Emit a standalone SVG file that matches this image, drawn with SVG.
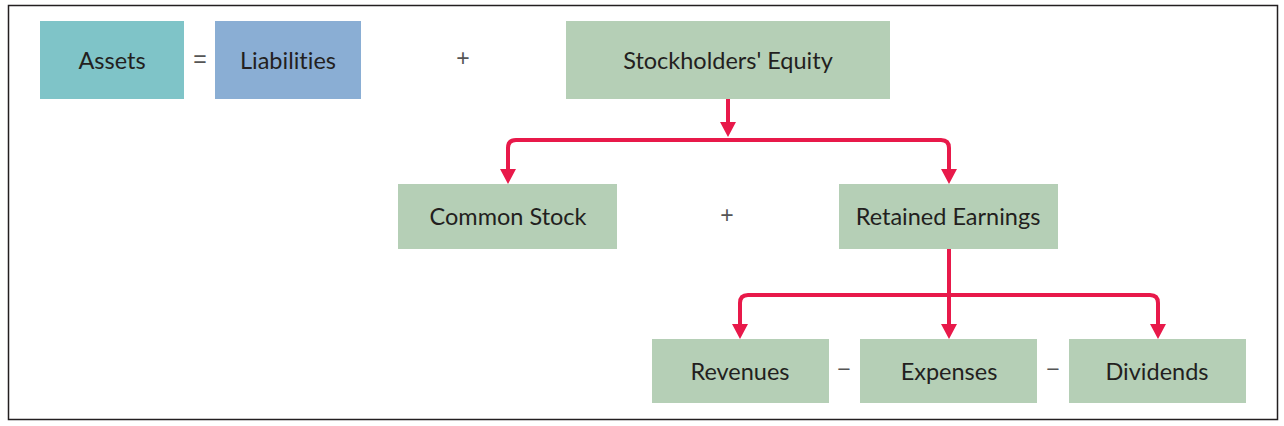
<svg xmlns="http://www.w3.org/2000/svg" width="1284" height="426" viewBox="0 0 1284 426">
<style>
.box{fill:#b5cfb6}
.t{font-family:Lato,"Liberation Sans",sans-serif;font-size:23.5px;fill:#231f20;text-anchor:middle;dominant-baseline:central;font-variant-ligatures:none}
.op{font-family:"Liberation Sans",sans-serif;font-size:23px;fill:#555;text-anchor:middle;dominant-baseline:central}
.c{fill:none;stroke:#e8194a;stroke-width:4;stroke-linejoin:round}
</style>
<defs>
<marker id="ah" viewBox="0 0 15 16" refX="5" refY="8" markerWidth="15" markerHeight="16" markerUnits="userSpaceOnUse" orient="auto">
<path d="M0,0 L15,8 L0,16 Z" fill="#e8194a"/>
</marker>
</defs>
<rect x="0" y="0" width="1284" height="426" fill="#fff"/>
<rect x="8.5" y="5.5" width="1269" height="414" fill="none" stroke="#231f20" stroke-width="1.5"/>
<g id="assets"><rect x="40" y="21" width="144" height="78" fill="#7fc4c8"/><text class="t" x="112" y="60">Assets</text></g>
<text class="op" x="200" y="59">=</text>
<g id="liabilities"><rect x="215" y="21" width="146" height="78" fill="#8aaed4"/><text class="t" x="288" y="60">Liabilities</text></g>
<text class="op" x="463" y="58">+</text>
<g id="equity"><rect class="box" x="566" y="21" width="324" height="78"/><text class="t" x="728" y="60">Stockholders' Equity</text></g>
<g id="common"><rect class="box" x="398" y="184" width="219" height="65"/><text class="t" x="508" y="216">Common Stock</text></g>
<text class="op" x="727" y="215">+</text>
<g id="retained"><rect class="box" x="839" y="184" width="219" height="65"/><text class="t" x="948" y="216">Retained Earnings</text></g>
<g id="revenues"><rect class="box" x="652" y="339" width="177" height="64"/><text class="t" x="740" y="371">Revenues</text></g>
<text class="op" x="844" y="369">−</text>
<g id="expenses"><rect class="box" x="860" y="339" width="177" height="64"/><text class="t" x="949" y="371">Expenses</text></g>
<text class="op" x="1053" y="369">−</text>
<g id="dividends"><rect class="box" x="1069" y="339" width="177" height="64"/><text class="t" x="1157" y="371">Dividends</text></g>
<g id="connectors">
<path class="c" d="M728,99 V127" marker-end="url(#ah)"/>
<path class="c" d="M728,140 H516 Q508,140 508,148 V174" marker-end="url(#ah)"/>
<path class="c" d="M728,140 H941 Q949,140 949,148 V174" marker-end="url(#ah)"/>
<path class="c" d="M949,249 V329" marker-end="url(#ah)"/>
<path class="c" d="M949,295 H748 Q740,295 740,303 V329" marker-end="url(#ah)"/>
<path class="c" d="M949,295 H1150 Q1158,295 1158,303 V329" marker-end="url(#ah)"/>
</g>
</svg>
